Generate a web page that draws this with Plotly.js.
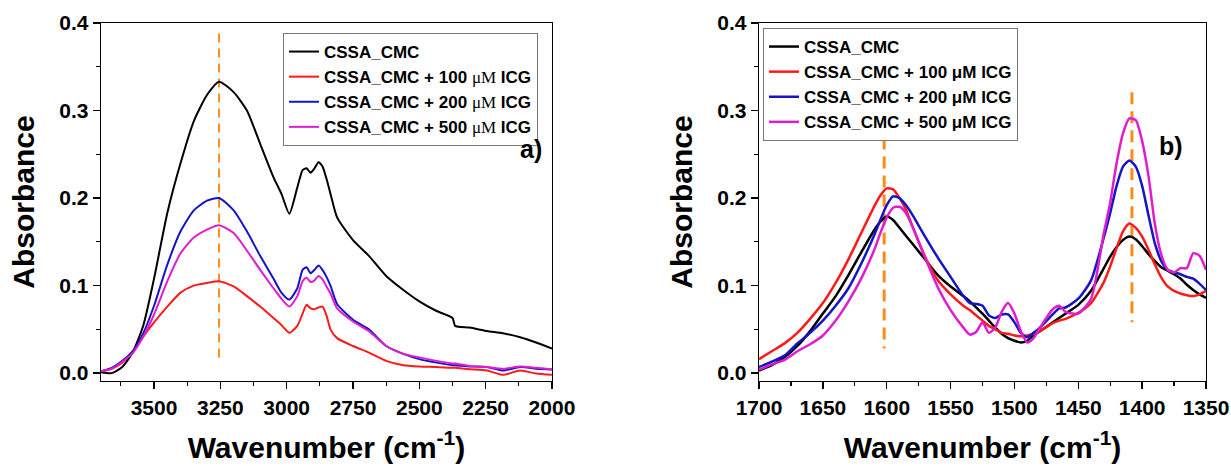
<!DOCTYPE html>
<html>
<head>
<meta charset="utf-8">
<script src="https://cdn.plot.ly/plotly-3.0.1.min.js"></script>
<style>html,body{margin:0;padding:0;background:#fff;}#chart{width:1231px;height:466px;}</style>
</head>
<body>
<div id="chart"></div>
<script>
// ---------- Panel a) data ----------
var wnA = [3700, 3660, 3620, 3580, 3540, 3500, 3450, 3400, 3350, 3300, 3255, 3200, 3150, 3100, 3050, 3020, 2990, 2960, 2940, 2925, 2910, 2895, 2880, 2865, 2850, 2835, 2810, 2750, 2690, 2625, 2560, 2500, 2435, 2375, 2365, 2310, 2245, 2185, 2120, 2060, 2000];
var cmcA = [0.001, 0.000, 0.007, 0.024, 0.055, 0.108, 0.183, 0.240, 0.288, 0.318, 0.333, 0.321, 0.300, 0.262, 0.224, 0.205, 0.182, 0.212, 0.232, 0.234, 0.229, 0.234, 0.241, 0.236, 0.222, 0.205, 0.178, 0.152, 0.134, 0.111, 0.095, 0.082, 0.071, 0.063, 0.054, 0.052, 0.048, 0.0455, 0.041, 0.035, 0.028];
var icg100A = [0.002, 0.005, 0.012, 0.025, 0.042, 0.058, 0.076, 0.092, 0.100, 0.103, 0.105, 0.099, 0.088, 0.076, 0.063, 0.055, 0.046, 0.054, 0.068, 0.078, 0.074, 0.073, 0.075, 0.076, 0.066, 0.050, 0.040, 0.031, 0.0235, 0.014, 0.009, 0.0076, 0.007, 0.006, 0.006, 0.0045, 0.003, -0.002, 0.003, -0.0005, -0.002];
var icg200A = [0.002, 0.006, 0.014, 0.025, 0.046, 0.077, 0.124, 0.162, 0.186, 0.197, 0.200, 0.186, 0.162, 0.134, 0.108, 0.092, 0.084, 0.097, 0.118, 0.121, 0.114, 0.118, 0.123, 0.118, 0.110, 0.100, 0.079, 0.061, 0.050, 0.031, 0.022, 0.016, 0.012, 0.009, 0.009, 0.0076, 0.007, 0.003, 0.007, 0.005, 0.004];
var icg500A = [0.002, 0.005, 0.013, 0.023, 0.042, 0.067, 0.105, 0.137, 0.155, 0.164, 0.169, 0.160, 0.140, 0.118, 0.097, 0.085, 0.076, 0.088, 0.105, 0.109, 0.104, 0.106, 0.111, 0.107, 0.099, 0.091, 0.074, 0.059, 0.048, 0.031, 0.022, 0.018, 0.014, 0.011, 0.011, 0.008, 0.007, 0.005, 0.0075, 0.006, 0.004];
var markA_x = [3255, 3255];
var markA_y = [0.388, 0.012];

// ---------- Panel b) data ----------
var wnB = [1700, 1690, 1680, 1670, 1660, 1650, 1640, 1630, 1620, 1610, 1605, 1600, 1595, 1590, 1585, 1580, 1570, 1560, 1550, 1540, 1535, 1530, 1525, 1520, 1515, 1510, 1505, 1500, 1495, 1490, 1485, 1480, 1470, 1465, 1460, 1450, 1440, 1430, 1425, 1420, 1415, 1410, 1405, 1400, 1395, 1390, 1385, 1380, 1375, 1370, 1365, 1360, 1355, 1350];
var cmcB = [0.003, 0.009, 0.018, 0.031, 0.048, 0.068, 0.088, 0.112, 0.138, 0.163, 0.173, 0.179, 0.175, 0.166, 0.157, 0.148, 0.130, 0.112, 0.099, 0.088, 0.082, 0.075, 0.068, 0.060, 0.052, 0.045, 0.040, 0.037, 0.035, 0.037, 0.043, 0.048, 0.058, 0.063, 0.068, 0.078, 0.094, 0.120, 0.133, 0.144, 0.152, 0.156, 0.153, 0.145, 0.136, 0.128, 0.121, 0.117, 0.113, 0.108, 0.101, 0.095, 0.090, 0.086];
var icg100B = [0.016, 0.025, 0.034, 0.046, 0.062, 0.080, 0.103, 0.130, 0.160, 0.190, 0.203, 0.211, 0.210, 0.200, 0.187, 0.168, 0.133, 0.106, 0.090, 0.077, 0.072, 0.066, 0.060, 0.054, 0.050, 0.046, 0.045, 0.043, 0.042, 0.043, 0.045, 0.048, 0.057, 0.060, 0.062, 0.069, 0.080, 0.104, 0.122, 0.143, 0.162, 0.171, 0.166, 0.156, 0.141, 0.124, 0.109, 0.099, 0.094, 0.091, 0.089, 0.088, 0.090, 0.094];
var icg200B = [0.007, 0.013, 0.020, 0.034, 0.046, 0.060, 0.077, 0.097, 0.125, 0.157, 0.175, 0.192, 0.202, 0.200, 0.192, 0.181, 0.156, 0.132, 0.110, 0.088, 0.080, 0.079, 0.077, 0.066, 0.063, 0.067, 0.067, 0.058, 0.046, 0.041, 0.046, 0.052, 0.067, 0.074, 0.075, 0.085, 0.106, 0.155, 0.183, 0.214, 0.236, 0.243, 0.236, 0.214, 0.180, 0.148, 0.128, 0.118, 0.115, 0.113, 0.110, 0.108, 0.102, 0.095];
var icg500B = [0.004, 0.010, 0.015, 0.025, 0.033, 0.043, 0.060, 0.082, 0.108, 0.140, 0.160, 0.178, 0.189, 0.190, 0.183, 0.168, 0.132, 0.098, 0.072, 0.052, 0.044, 0.047, 0.058, 0.046, 0.052, 0.070, 0.080, 0.068, 0.048, 0.035, 0.040, 0.052, 0.073, 0.077, 0.070, 0.068, 0.085, 0.160, 0.195, 0.240, 0.274, 0.291, 0.289, 0.265, 0.225, 0.170, 0.135, 0.118, 0.115, 0.120, 0.120, 0.137, 0.134, 0.118];
var markB1_x = [1602, 1602];
var markB1_y = [0.291, 0.028];
var markB2_x = [1408, 1408];
var markB2_y = [0.321, 0.058];

// ---------- labels ----------
var namesA = ['CSSA_CMC',
  'CSSA_CMC + 100 <span style="font-family:\'Liberation Serif\';font-weight:normal">\u03bcM</span> ICG',
  'CSSA_CMC + 200 <span style="font-family:\'Liberation Serif\';font-weight:normal">\u03bcM</span> ICG',
  'CSSA_CMC + 500 <span style="font-family:\'Liberation Serif\';font-weight:normal">\u03bcM</span> ICG'];
var namesB = ['CSSA_CMC', 'CSSA_CMC + 100 \u03bcM ICG', 'CSSA_CMC + 200 \u03bcM ICG', 'CSSA_CMC + 500 \u03bcM ICG'];
var colors = ['#000000', '#ff1a1a', '#1414c8', '#e01ccf'];
var xTitle = 'Wavenumber (cm<sup>-1</sup>)';
var yTitle = 'Absorbance';

var seriesA = [cmcA, icg100A, icg200A, icg500A];
var seriesB = [cmcB, icg100B, icg200B, icg500B];

var traces = [];
var orange = '#ff8c1a';
traces.push({x: markA_x, y: markA_y, xaxis: 'x', yaxis: 'y', mode: 'lines', showlegend: false,
  line: {color: orange, width: 2, dash: '9px,6px'}, hoverinfo: 'skip'});
traces.push({x: markB1_x, y: markB1_y, xaxis: 'x2', yaxis: 'y2', mode: 'lines', showlegend: false,
  line: {color: orange, width: 3, dash: '12px,7px'}, hoverinfo: 'skip'});
traces.push({x: markB2_x, y: markB2_y, xaxis: 'x2', yaxis: 'y2', mode: 'lines', showlegend: false,
  line: {color: orange, width: 3, dash: '12px,7px'}, hoverinfo: 'skip'});

for (var i = 0; i < 4; i++) {
  traces.push({x: wnA, y: seriesA[i], name: namesA[i], xaxis: 'x', yaxis: 'y', mode: 'lines',
    legend: 'legend', line: {color: colors[i], width: 2, shape: 'spline', smoothing: 0.6}});
}
for (var j = 0; j < 4; j++) {
  traces.push({x: wnB, y: seriesB[j], name: namesB[j], xaxis: 'x2', yaxis: 'y2', mode: 'lines',
    legend: 'legend2', line: {color: colors[j], width: 2.5, shape: 'spline', smoothing: 0.6}});
}

var fontFam = '"Liberation Sans", Arial, sans-serif';
var tickFont = {family: fontFam, size: 21, color: '#000', weight: 'bold'};
var titleFont = {family: fontFam, size: 30, color: '#000', weight: 'bold'};

function xax(domain, range, dtick, minorDtick, anchor) {
  return {domain: domain, range: range, anchor: anchor, showgrid: false, zeroline: false,
    showline: true, linecolor: '#000', linewidth: 1.3, mirror: true,
    ticks: 'outside', ticklen: 7, tickwidth: 1.3, tickcolor: '#000',
    dtick: dtick, tick0: 0, tickfont: tickFont,
    minor: {ticks: 'outside', ticklen: 4, tickwidth: 1.2, tickcolor: '#000', dtick: minorDtick, showgrid: false},
    title: {text: xTitle, font: titleFont, standoff: 19}};
}
function yax(anchor) {
  return {domain: [0, 1], range: [-0.009, 0.4], anchor: anchor, showgrid: false, zeroline: false,
    showline: true, linecolor: '#000', linewidth: 1.3, mirror: true,
    ticks: 'outside', ticklen: 7, tickwidth: 1.3, tickcolor: '#000',
    dtick: 0.1, tick0: 0, tickformat: '.1f', tickfont: tickFont,
    minor: {ticks: 'outside', ticklen: 4, tickwidth: 1.2, tickcolor: '#000', dtick: 0.05, showgrid: false},
    title: {text: yTitle, font: titleFont, standoff: 15}};
}

// plot area: x from 101 to 1206 px, y from 23 to 381 px
function px(xp) { return (xp - 101) / 1105; }
function py(yp) { return (381 - yp) / 358; }

var legendFont = {family: fontFam, size: 17, color: '#000', weight: 'bold'};
var layout = {
  width: 1231, height: 466,
  margin: {l: 101, r: 25, t: 23, b: 85},
  paper_bgcolor: '#fff', plot_bgcolor: '#fff',
  showlegend: true,
  xaxis: xax([0, 0.4081], [3700, 2000], 250, 125, 'y'),
  yaxis: yax('x'),
  xaxis2: xax([0.5955, 1.0], [1700, 1350], 50, 25, 'y2'),
  yaxis2: yax('x2'),
  legend: {x: px(283), y: py(33), xref: 'paper', yref: 'paper', xanchor: 'left', yanchor: 'top',
    bgcolor: '#fff', bordercolor: '#777', borderwidth: 1, font: legendFont, tracegroupgap: 0},
  legend2: {x: px(763), y: py(28), xref: 'paper', yref: 'paper', xanchor: 'left', yanchor: 'top',
    bgcolor: '#fff', bordercolor: '#777', borderwidth: 1, font: legendFont, tracegroupgap: 0},
  annotations: [
    {text: 'a)', xref: 'paper', yref: 'paper', x: px(531), y: py(149), showarrow: false,
      font: {family: fontFam, size: 25, color: '#000', weight: 'bold'}},
    {text: 'b)', xref: 'paper', yref: 'paper', x: px(1185), y: py(130), showarrow: false,
      font: {family: fontFam, size: 25, color: '#000', weight: 'bold'}}
  ]
};

Plotly.newPlot('chart', traces, layout, {displayModeBar: false, staticPlot: true});
</script>
</body>
</html>
